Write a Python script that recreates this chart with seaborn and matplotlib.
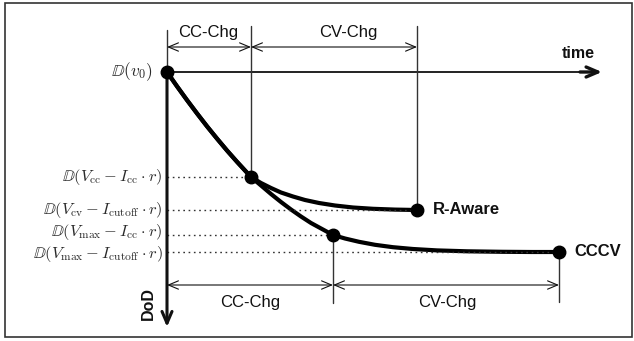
import matplotlib
matplotlib.use('Agg')
import matplotlib.pyplot as plt
import seaborn as sns
import pandas as pd
import numpy as np
from matplotlib.patches import Rectangle

# schematic data (time, DoD)
cc_time = [0.0, 1.0, 2.0, 3.0, 4.0, 5.0, 6.0, 7.0, 8.4]
cc_dod = [0.0, 1.43, 2.81, 4.14, 5.43, 6.66, 7.85, 8.98, 10.5]

raware_time = [9.4, 10.4, 11.4, 12.6, 13.8, 15.2, 16.8, 18.6, 20.6, 22.8, 25.0]
raware_dod = [11.1, 11.6, 12.05, 12.45, 12.8, 13.1, 13.35, 13.55, 13.68, 13.76, 13.8]

cccv_time = [9.4, 10.4, 11.4, 12.4, 13.4, 14.4, 15.5, 16.6,
             17.8, 19.2, 20.8, 22.6, 24.6, 27.0, 30.0, 33.5, 36.5, 39.2]
cccv_dod = [11.35, 12.2, 13.0, 13.75, 14.45, 15.1, 15.7, 16.3,
            16.65, 16.98, 17.28, 17.52, 17.7, 17.84, 17.93, 17.98, 18.0, 18.0]

level_dod = [10.5, 13.8, 16.3, 18.0]
level_time = [8.4, 25.0, 16.6, 39.2]
level_labels = [r'$\mathbb{D}(V_{\rm cc} - I_{\rm cc} \cdot r)$',
                r'$\mathbb{D}(V_{\rm cv} - I_{\rm cutoff} \cdot r)$',
                r'$\mathbb{D}(V_{\max} - I_{\rm cc} \cdot r)$',
                r'$\mathbb{D}(V_{\max} - I_{\rm cutoff} \cdot r)$']
origin_label = r'$\mathbb{D}(v_0)$'

phase_labels = ['CC-Chg', 'CV-Chg']
curve_names = ['R-Aware', 'CCCV']

sns.set_theme(style='white')
plt.rcParams['font.family'] = ['Liberation Sans', 'DejaVu Sans']
plt.rcParams['mathtext.fontset'] = 'cm'

fig = plt.figure(figsize=(6.34, 3.41), dpi=100)
ax = fig.add_axes([0, 0, 1, 1])
ax.set_xlim(-16.7, 46.7)
ax.set_ylim(26.9, -7.2)
ax.axis('off')

# outer frame
ax.add_patch(Rectangle((0.008, 0.012), 0.989, 0.98, transform=ax.transAxes,
                       fill=False, edgecolor='#333333', lw=1.2))

ink = '#111111'
guide = '#333333'

# curves
raware = pd.DataFrame({'time': cc_time + raware_time, 'dod': cc_dod + raware_dod})
cccv = pd.DataFrame({'time': cc_time + cccv_time, 'dod': cc_dod + cccv_dod})
sns.lineplot(data=raware, x='time', y='dod', sort=False, color='black', lw=3.0, ax=ax)
sns.lineplot(data=cccv, x='time', y='dod', sort=False, color='black', lw=3.0, ax=ax)

# horizontal time axis
ax.plot([0, 41.6], [0, 0], color=ink, lw=1.3)
ax.annotate('', xy=(43.5, 0), xytext=(41.3, 0),
            arrowprops=dict(arrowstyle='->,head_length=0.7,head_width=0.3',
                            lw=2.4, color=ink, shrinkA=0, shrinkB=0))
# vertical DoD axis
ax.plot([0, 0], [-4.2, 0], color=guide, lw=1.0)
ax.annotate('', xy=(0, 25.5), xytext=(0, 0),
            arrowprops=dict(arrowstyle='->,head_length=0.7,head_width=0.3',
                            lw=2.2, color=ink, shrinkA=0, shrinkB=0))

# guide lines for phase boundaries
ax.plot([level_time[0]] * 2, [-4.6, level_dod[0]], color=guide, lw=1.0)
ax.plot([level_time[1]] * 2, [-4.6, level_dod[1]], color=guide, lw=1.0)
ax.plot([level_time[2]] * 2, [level_dod[2], 23.1], color=guide, lw=1.0)
ax.plot([level_time[3]] * 2, [level_dod[3], 23.0], color=guide, lw=1.0)

# dotted levels + labels (the two lowest labels nudged apart a little)
nudge = [0, 0, -0.25, 0.25]
for t, d, lab, dy in zip(level_time, level_dod, level_labels, nudge):
    ax.plot([0, t], [d, d], color=guide, lw=1.0, ls=(0, (1.2, 2.6)))
    ax.text(-0.45, d + dy, lab, ha='right', va='center', fontsize=11.8, color='#2a2a2a')
ax.text(-1.4, 0, origin_label, ha='right', va='center', fontsize=12.5, color='#2a2a2a')

# dots
dot_t = [0] + level_time
dot_d = [0] + level_dod
ax.plot(dot_t, dot_d, 'o', color='black', ms=9, zorder=5)

# dimension arrows
dim = dict(arrowstyle='<->,head_length=0.6,head_width=0.25', lw=0.8, color=ink,
           shrinkA=0, shrinkB=0)
ax.annotate('', xy=(0, -2.5), xytext=(level_time[0], -2.5), arrowprops=dim)
ax.annotate('', xy=(level_time[0], -2.5), xytext=(level_time[1], -2.5), arrowprops=dim)
ax.annotate('', xy=(0, 21.3), xytext=(level_time[2], 21.3), arrowprops=dim)
ax.annotate('', xy=(level_time[2], 21.3), xytext=(level_time[3], 21.3), arrowprops=dim)

ax.text(4.1, -4.0, phase_labels[0], ha='center', va='center', fontsize=12, color=ink)
ax.text(18.1, -4.0, phase_labels[1], ha='center', va='center', fontsize=12, color=ink)
ax.text(8.3, 23.1, phase_labels[0], ha='center', va='center', fontsize=12, color=ink)
ax.text(28.0, 23.1, phase_labels[1], ha='center', va='center', fontsize=12, color=ink)

ax.text(41.1, -1.9, 'time', ha='center', va='center', fontsize=11.5,
        fontweight='bold', color=ink)
ax.text(-1.9, 23.2, 'DoD', ha='center', va='center', rotation=90, fontsize=11.5,
        fontweight='bold', color=ink)
ax.text(26.6, level_dod[1], curve_names[0], ha='left', va='center', fontsize=12,
        fontweight='bold', color=ink)
ax.text(40.7, level_dod[3], curve_names[1], ha='left', va='center', fontsize=12,
        fontweight='bold', color=ink)

fig.savefig('out.png', dpi=100)
